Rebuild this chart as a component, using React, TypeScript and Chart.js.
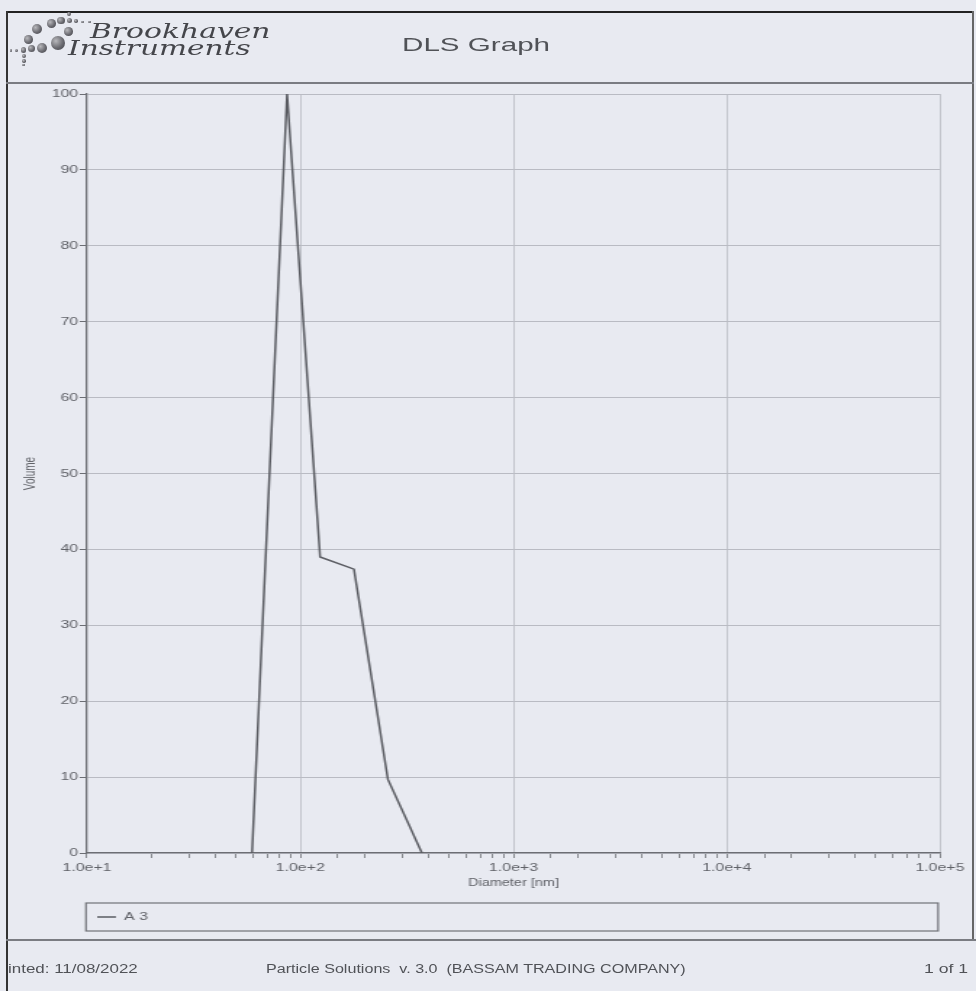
import React, { useEffect, useLayoutEffect, useRef, useState } from 'react';
import { Chart, registerables } from 'chart.js';

Chart.register(...registerables);

// ---------- data ----------
const diameters = [59.4, 86.7, 123.9, 178.6, 257.7, 372.0]; // nm
const volumes = [0, 100, 39.0, 37.4, 9.7, 0];
const seriesLabel = 'A 3';
const xDecades = [10, 100, 1000, 10000, 100000];
const xTickLabels = ['1.0e+1', '1.0e+2', '1.0e+3', '1.0e+4', '1.0e+5'];
const yMin = 0;
const yMax = 100;
const yStep = 10;
const xTitle = 'Diameter [nm]';
const yTitle = 'Volume';

// ---------- page geometry / styling ----------
const PAGE_W = 976;
const PAGE_H = 991;
const STRETCH = 1.45; // scanned page is stretched horizontally
const CANVAS_W = Math.round(PAGE_W / STRETCH);
const SX = PAGE_W / CANVAS_W;
const PLOT_LEFT = 87;
const PLOT_RIGHT = 940;
const PLOT_TOP = 94;
const PLOT_BOTTOM = 853;
const XAXIS_H = 50;

const BG = '#e8eaf1';
const TEXT = '#606268';
const GRID = '#b9bbc3';
const AXIS = '#6c6e74';
const LINE = '#5a5c62';
const SANS = '"Liberation Sans", Arial, sans-serif';

const logoDots = [
  [36.7, 29.3, 4], [51.7, 23.3, 3.3], [61, 20.7, 2.7], [69, 14.3, 1.7], [69.3, 20.7, 2],
  [76, 21, 1.3], [82.7, 22, 1], [89.3, 22, 1], [68.3, 31.7, 3.3], [28.3, 39.3, 3.3],
  [58.3, 42.7, 5.3], [41.7, 47.7, 4], [31.7, 48.3, 2.7], [23.3, 50, 2], [16.7, 50.7, 1.3],
  [11, 50.7, 1], [24.3, 56, 1.7], [24, 61, 1.3], [23.3, 65, 1],
];

function StretchText(props: {
  text: string; left: number; centerY: number; width: number; size: number;
  family?: string; italic?: boolean; color?: string; weight?: number;
}) {
  const { text, left, centerY, width, size, family = SANS, italic = false, color = '#555', weight = 400 } = props;
  const ref = useRef<HTMLSpanElement>(null);
  const [scale, setScale] = useState(1);
  useLayoutEffect(() => {
    const el = ref.current;
    if (el && el.offsetWidth > 0) setScale(width / el.offsetWidth);
  }, [text, width, size]);
  return (
    <span
      ref={ref}
      style={{
        position: 'absolute', left, top: centerY - size * 0.6, fontSize: size,
        lineHeight: `${size * 1.2}px`, fontFamily: family, fontStyle: italic ? 'italic' : 'normal',
        fontWeight: weight, color, whiteSpace: 'pre', transform: `scaleX(${scale})`,
        transformOrigin: 'left center',
      }}
    >
      {text}
    </span>
  );
}

const isDecade = (v: number) => Math.abs(Math.log10(v) - Math.round(Math.log10(v))) < 1e-9;

const legendFramePlugin = {
  id: 'legendFrame',
  afterLayout(chart: any) {
    const lg = chart.legend;
    const ca = chart.chartArea;
    const xs = chart.scales.x;
    if (!lg || !ca || !xs) return;
    const pad = lg.options.labels.padding;
    const fs = lg.options.labels.font.size;
    const h = 28;
    lg.left = ca.left + 1;
    lg.right = ca.right;
    lg.width = lg.right - lg.left;
    lg.top = xs.bottom + h / 2 - pad - fs / 2;
    lg.bottom = lg.top + h;
    lg.height = h;
  },
  afterDraw(chart: any) {
    const ca = chart.chartArea;
    const xs = chart.scales.x;
    const ctx = chart.ctx;
    ctx.save();
    ctx.strokeStyle = '#707278';
    ctx.lineWidth = 1.2;
    ctx.strokeRect(ca.left - 0.7, xs.bottom, ca.right - ca.left - 0.6, 28);
    ctx.restore();
  },
};

export default function App() {
  const canvasRef = useRef<HTMLCanvasElement>(null);

  useEffect(() => {
    const canvas = canvasRef.current;
    if (!canvas) return;
    const chart = new Chart(canvas, {
      type: 'line',
      data: {
        datasets: [
          {
            label: seriesLabel,
            data: diameters.map((d, i) => ({ x: d, y: volumes[i] })),
            borderColor: LINE,
            backgroundColor: LINE,
            borderWidth: 1.5,
            pointRadius: 0,
            tension: 0,
            fill: false,
          },
        ],
      },
      options: {
        animation: false,
        responsive: false,
        devicePixelRatio: 1,
        layout: {
          padding: {
            left: 0,
            right: CANVAS_W - PLOT_RIGHT / SX,
            top: PLOT_TOP,
            bottom: PAGE_H - PLOT_BOTTOM - XAXIS_H,
          },
        },
        scales: {
          x: {
            type: 'logarithmic',
            min: 10,
            max: 100000,
            afterFit: (s: any) => { s.height = XAXIS_H; },
            grid: {
              color: (c: any) => (c.tick && isDecade(c.tick.value) ? GRID : 'rgba(0,0,0,0)'),
              tickColor: AXIS,
              lineWidth: 0.8,
              tickWidth: 0.8,
              tickLength: 5,
              drawTicks: true,
            },
            border: { color: AXIS, width: 1.2 },
            ticks: {
              autoSkip: false,
              maxRotation: 0,
              minRotation: 0,
              padding: 3,
              color: TEXT,
              font: { family: SANS, size: 11 },
              callback: (v: any) => {
                const n = Number(v);
                const idx = xDecades.findIndex((d) => Math.abs(d - n) < 1e-6 * d);
                return idx >= 0 ? xTickLabels[idx] : '';
              },
            },
            title: {
              display: true,
              text: xTitle,
              color: TEXT,
              font: { family: SANS, size: 10 },
              padding: { top: 0, bottom: 14 },
            },
          },
          y: {
            min: yMin,
            max: yMax,
            afterFit: (s: any) => { s.width = PLOT_LEFT / SX; },
            grid: {
              color: GRID,
              tickColor: AXIS,
              lineWidth: 1,
              tickLength: 5,
            },
            border: { color: AXIS, width: 1.3 },
            ticks: {
              stepSize: yStep,
              padding: 1,
              color: TEXT,
              font: { family: SANS, size: 11 },
            },
            title: {
              display: true,
              text: yTitle,
              color: TEXT,
              font: { family: SANS, size: 10 },
              padding: { top: 15, bottom: 0 },
            },
          },
        },
        plugins: {
          legend: {
            display: true,
            position: 'chartArea',
            align: 'start',
            labels: {
              usePointStyle: true,
              pointStyle: 'line',
              pointStyleWidth: 13,
              padding: 6,
              color: TEXT,
              font: { family: SANS, size: 11 },
            },
          },
          tooltip: { enabled: false },
          title: { display: false },
        },
      } as any,
      plugins: [legendFramePlugin],
    });
    return () => chart.destroy();
  }, []);

  return (
    <div style={{ position: 'absolute', left: 0, top: 0, width: PAGE_W, height: PAGE_H, background: BG, overflow: 'hidden' }}>
      <canvas
        ref={canvasRef}
        width={CANVAS_W}
        height={PAGE_H}
        style={{ position: 'absolute', left: 0, top: 0, width: PAGE_W, height: PAGE_H }}
      />
      {/* page frame */}
      <div style={{ position: 'absolute', left: 6, top: 11, width: 968, height: 2, background: '#222' }} />
      <div style={{ position: 'absolute', left: 6, top: 11, width: 2, height: PAGE_H - 11, background: '#333' }} />
      <div style={{ position: 'absolute', left: 972, top: 11, width: 1.5, height: 929, background: '#666' }} />
      <div style={{ position: 'absolute', left: 6, top: 82, width: 968, height: 1.5, background: '#7a7c82' }} />
      <div style={{ position: 'absolute', left: 6, top: 939, width: 970, height: 1.5, background: '#7a7c82' }} />
      {/* logo */}
      {logoDots.map(([x, y, r0], i) => {
        const r = r0 * 1.3;
        return (
          <div
            key={i}
            style={{
              position: 'absolute', left: x - r, top: y - r, width: 2 * r, height: 2 * r, borderRadius: '50%',
              background: 'radial-gradient(circle at 35% 35%, #b8b8bc 0%, #6a6a70 55%, #3e3e44 100%)',
            }}
          />
        );
      })}
      <StretchText text="Brookhaven" left={90} centerY={32} width={180} size={21} family='"DejaVu Serif", "Liberation Serif", serif' italic color="#45464b" />
      <StretchText text="Instruments" left={68} centerY={49} width={183} size={21} family='"DejaVu Serif", "Liberation Serif", serif' italic color="#45464b" />
      <StretchText text="DLS Graph" left={402} centerY={45} width={148} size={19} color="#505257" />
      {/* footer */}
      <StretchText text="inted: 11/08/2022" left={8} centerY={969} width={130} size={12} color="#505257" />
      <StretchText text="Particle Solutions  v. 3.0  (BASSAM TRADING COMPANY)" left={266} centerY={969} width={420} size={12} color="#505257" />
      <StretchText text="1 of 1" left={924} centerY={969} width={44} size={12} color="#505257" />
    </div>
  );
}
